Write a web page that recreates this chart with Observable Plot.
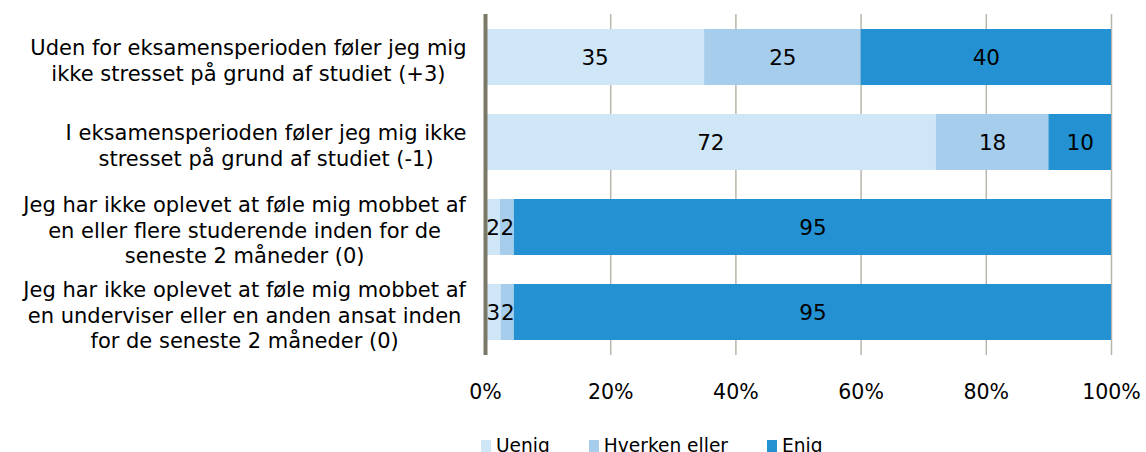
<!DOCTYPE html>
<html>
<head>
<meta charset="utf-8">
<script src="https://cdn.jsdelivr.net/npm/d3@7"></script>
<script src="https://cdn.jsdelivr.net/npm/@observablehq/plot@0.6"></script>
<style>
  html, body { margin: 0; padding: 0; background: #fff; }
  body { font-family: "DejaVu Sans", Verdana, sans-serif; width: 1146px; height: 452px; overflow: hidden; }
  #legend { display: flex; align-items: center; padding-left: 481px; padding-top: 10px; font-size: 18.6px; line-height: 22px; color: #000; }
  .item { display: flex; align-items: center; margin-right: 39px; }
  .sw { width: 10px; height: 12px; margin-right: 5px; }
</style>
</head>
<body>
<div id="chart"></div>
<div id="legend"></div>
<script>
const questions = [
  "Uden for eksamensperioden føler jeg mig\nikke stresset på grund af studiet (+3)",
  "I eksamensperioden føler jeg mig ikke\nstresset på grund af studiet (-1)",
  "Jeg har ikke oplevet at føle mig mobbet af\nen eller flere studerende inden for de\nseneste 2 måneder (0)",
  "Jeg har ikke oplevet at føle mig mobbet af\nen underviser eller en anden ansat inden\nfor de seneste 2 måneder (0)"
];
const categories = ["Uenig", "Hverken eller", "Enig"];
const colors = ["#cfe6f6", "#a6cdec", "#2492d2"];
const uenig = [35, 72, 2.4, 2.5];
const hverken = [25, 18, 2.2, 2.1];
const enig = [40, 10, 95.4, 95.4];
const xTicks = [0, 20, 40, 60, 80, 100];
const gridTicks = [20, 40, 60, 80, 100];

const series = [uenig, hverken, enig];
const data = [];
questions.forEach((q, i) => {
  categories.forEach((c, j) => {
    data.push({q, cat: c, value: series[j][i]});
  });
});

const FONT = "DejaVu Sans, Verdana, sans-serif";

const plot = Plot.plot({
  width: 1146,
  height: 425,
  marginLeft: 485,
  marginRight: 35,
  marginTop: 14,
  marginBottom: 70,
  style: {fontFamily: FONT, fontSize: "20px", color: "#000", background: "#fff"},
  x: {domain: [0, 100], ticks: xTicks, tickFormat: d => d + "%", label: null},
  y: {domain: questions, paddingInner: 0.34, paddingOuter: 0.16, label: null},
  color: {domain: categories, range: colors},
  marks: [
    Plot.ruleX(gridTicks, {stroke: "#b8b6a9", strokeWidth: 1.5}),
    Plot.barX(data, Plot.stackX({x: "value", y: "q", fill: "cat", z: "cat", order: categories})),
    Plot.text(data, Plot.stackX({x: "value", y: "q", z: "cat", order: categories, text: d => String(Math.round(d.value)), fill: "#000", fontSize: 21.5, dy: 1})),
    Plot.axisX({ticks: xTicks, tickFormat: d => d + "%", tickSize: 0, tickPadding: 29, fontSize: 20.5, label: null}),
    Plot.axisY({tickSize: 0, tickPadding: 0, fontSize: 21, textAnchor: "middle", lineHeight: 1.22, label: null}),
    Plot.ruleX([0], {stroke: "#7a7866", strokeWidth: 4})
  ]
});
document.getElementById("chart").appendChild(plot);

// Center each multi-line y label block, right-aligning blocks near the axis
const yAxis = plot.querySelector('g[aria-label="y-axis tick label"]');
if (yAxis) {
  yAxis.querySelectorAll("text").forEach(t => {
    const bb = t.getBBox();
    const right = bb.x + bb.width;
    const shift = -19 - right;
    const tr = t.getAttribute("transform") || "";
    t.setAttribute("transform", tr + ` translate(${shift},2)`);
  });
}

const lg = document.getElementById("legend");
categories.forEach((c, i) => {
  const it = document.createElement("div");
  it.className = "item";
  const sw = document.createElement("div");
  sw.className = "sw";
  sw.style.background = colors[i];
  const tx = document.createElement("span");
  tx.textContent = c;
  it.appendChild(sw); it.appendChild(tx);
  lg.appendChild(it);
});
</script>
</body>
</html>
